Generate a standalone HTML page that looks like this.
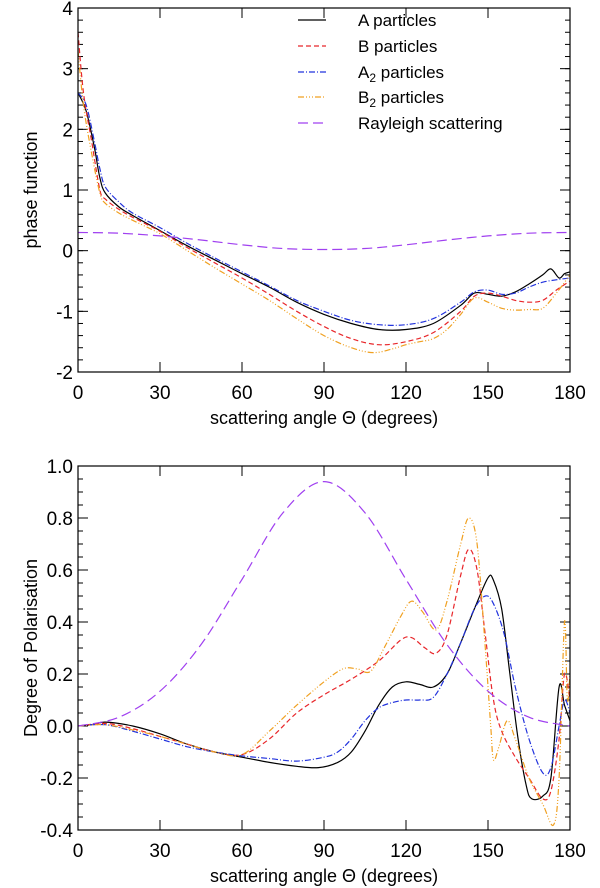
<!DOCTYPE html>
<html><head><meta charset="utf-8"><style>
body{margin:0;background:#fff}
svg{display:block;font-family:"Liberation Sans",sans-serif}
</style></head><body>
<svg id="c" width="600" height="888" viewBox="0 0 600 888"></svg>
<script>
const ticksX=[0,30,60,90,120,150,180];
const ticksTop=[-2,-1,0,1,2,3,4];
const ticksBot=[-0.4,-0.2,0.0,0.2,0.4,0.6,0.8,1.0];
const seriesNames=["A particles","B particles","A2 particles","B2 particles","Rayleigh scattering"];
// top: phase function
const aTopX=[0,3,6,8,10,15,20,30,40,50,60,70,80,90,100,110,120,130,140,145,150,155,160,165,170,173,176,178,180];
const aTopY=[2.6,2.3,1.7,1.2,0.95,0.72,0.58,0.33,0.08,-0.15,-0.38,-0.6,-0.85,-1.05,-1.2,-1.3,-1.3,-1.2,-0.9,-0.7,-0.72,-0.75,-0.68,-0.55,-0.4,-0.3,-0.45,-0.38,-0.35];
const bTopX=[0,2,5,8,10,15,20,30,40,50,60,70,80,90,100,110,120,130,140,145,150,155,160,165,170,175,180];
const bTopY=[3.6,2.6,1.8,1.0,0.85,0.68,0.55,0.32,0.05,-0.2,-0.45,-0.72,-1.0,-1.25,-1.45,-1.55,-1.5,-1.35,-1.0,-0.75,-0.7,-0.75,-0.82,-0.85,-0.82,-0.65,-0.5];
const a2TopX=[0,3,6,8,10,15,20,30,40,50,60,70,80,90,100,110,120,130,140,145,150,155,160,165,170,175,180];
const a2TopY=[2.6,2.4,1.8,1.35,1.05,0.8,0.62,0.38,0.12,-0.12,-0.35,-0.58,-0.82,-1.0,-1.15,-1.22,-1.22,-1.12,-0.85,-0.68,-0.65,-0.72,-0.7,-0.6,-0.52,-0.48,-0.45];
const b2TopX=[0,2,5,8,10,15,20,30,40,50,60,70,80,90,100,108,115,120,125,130,135,140,145,150,155,160,165,170,175,180];
const b2TopY=[3.3,2.4,1.6,0.95,0.78,0.62,0.5,0.28,0.0,-0.28,-0.55,-0.82,-1.12,-1.4,-1.6,-1.68,-1.62,-1.55,-1.5,-1.45,-1.3,-1.05,-0.78,-0.85,-0.95,-0.98,-0.97,-0.95,-0.7,-0.4];
const rTopX=[0,15,30,45,60,75,90,105,120,135,150,165,180];
const rTopY=[0.3,0.288,0.243,0.176,0.097,0.035,0.02,0.035,0.097,0.176,0.243,0.288,0.3];
// bottom: polarisation
const aBotX=[0,5,10,20,30,40,50,60,70,80,88,95,100,105,110,115,120,125,130,135,140,145,150,152,155,158,161,164,166,170,173,176,178,180];
const aBotY=[0,0.005,0.015,0.0,-0.03,-0.07,-0.1,-0.12,-0.14,-0.155,-0.16,-0.14,-0.1,-0.02,0.08,0.15,0.17,0.16,0.15,0.2,0.32,0.45,0.57,0.56,0.45,0.2,-0.05,-0.23,-0.28,-0.27,-0.2,0.15,0.08,0.02];
const bBotX=[0,10,20,30,40,50,60,70,80,90,100,110,118,122,127,131,135,140,143,146,149,152,155,160,165,170,173,176,178,180];
const bBotY=[0,0.01,-0.01,-0.04,-0.07,-0.1,-0.11,-0.05,0.05,0.12,0.18,0.25,0.33,0.34,0.3,0.28,0.35,0.58,0.68,0.6,0.35,0.1,-0.02,-0.12,-0.2,-0.28,-0.25,-0.05,0.2,0.1];
const a2BotX=[0,10,20,30,40,50,60,70,80,90,95,100,105,110,115,120,125,130,135,140,145,149,152,156,160,165,170,173,176,178,180];
const a2BotY=[0,0.005,-0.02,-0.05,-0.08,-0.1,-0.115,-0.125,-0.135,-0.12,-0.1,-0.05,0.02,0.07,0.09,0.1,0.1,0.11,0.2,0.32,0.45,0.5,0.47,0.35,0.15,-0.05,-0.18,-0.16,0.0,0.1,0.05];
const b2BotX=[0,10,20,30,40,50,60,70,80,90,97,102,107,112,118,122,126,131,135,140,143,146,149,151,152,154,157,160,165,170,174,176,178,179,180];
const b2BotY=[0,0.005,-0.015,-0.04,-0.07,-0.1,-0.11,-0.02,0.08,0.17,0.22,0.22,0.21,0.3,0.42,0.48,0.44,0.37,0.48,0.7,0.8,0.7,0.3,0.0,-0.13,-0.08,0.02,-0.05,-0.2,-0.3,-0.38,-0.2,0.4,0.1,0.2];
const rBotX=[0,15,30,45,60,75,90,105,120,135,150,165,180];
const rBotY=[0,0.034,0.134,0.313,0.564,0.82,0.94,0.82,0.564,0.313,0.134,0.034,0];

const NS="http://www.w3.org/2000/svg";
const svg=document.getElementById('c');
function el(t,a,p){const e=document.createElementNS(NS,t);for(const k in a)e.setAttribute(k,a[k]);(p||svg).appendChild(e);return e;}
const X0=78,X1=570;
function sx(v){return X0+(v/180)*(X1-X0);}
function mkY(lo,hi,top,bot){return v=>bot-(v-lo)/(hi-lo)*(bot-top);}
function path(xs,ys,fx,fy){
  const p=xs.map((x,i)=>[fx(x),fy(ys[i])]);
  let d="M"+p[0][0].toFixed(1)+","+p[0][1].toFixed(1);
  for(let i=0;i<p.length-1;i++){
    const p0=p[Math.max(0,i-1)],p1=p[i],p2=p[i+1],p3=p[Math.min(p.length-1,i+2)];
    const c1=[p1[0]+(p2[0]-p0[0])/6,p1[1]+(p2[1]-p0[1])/6];
    const c2=[p2[0]-(p3[0]-p1[0])/6,p2[1]-(p3[1]-p1[1])/6];
    d+="C"+c1.map(v=>v.toFixed(1))+" "+c2.map(v=>v.toFixed(1))+" "+p2.map(v=>v.toFixed(1));
  }
  return d;
}
const styles=[
 {c:"#000",d:""},
 {c:"#e8262a",d:"5,3"},
 {c:"#2233dd",d:"6,2,1,2"},
 {c:"#f0a020",d:"6,2,1,2,1,2,1,2"},
 {c:"#a040f0",d:"10,5"}];
function panel(name,top,bot,lo,hi,ticks,minor,fmt,ylabel,series){
  const g=el('g',{});
  
  
  const fy=mkY(lo,hi,top,bot);
  for(let v=lo;v<=hi+1e-9;v+=minor){
    const y=fy(v);
    el('line',{x1:X0,x2:X0+5,y1:y,y2:y,stroke:'#000','stroke-width':1},g);
    el('line',{x1:X1,x2:X1-5,y1:y,y2:y,stroke:'#000','stroke-width':1},g);
  }
  ticks.forEach(v=>{
    const y=fy(v);
    el('line',{x1:X0,x2:X0+10,y1:y,y2:y,stroke:'#000','stroke-width':1},g);
    el('line',{x1:X1,x2:X1-10,y1:y,y2:y,stroke:'#000','stroke-width':1},g);
    const t=el('text',{x:X0-5,y:y+7,'text-anchor':'end','font-size':19},g);t.textContent=fmt(v);
    
    
  });
  ticksX.forEach(v=>{
    const x=sx(v);
    el('line',{x1:x,x2:x,y1:bot,y2:bot-10,stroke:'#000','stroke-width':1},g);
    el('line',{x1:x,x2:x,y1:top,y2:top+10,stroke:'#000','stroke-width':1},g);
    const t=el('text',{x:x,y:bot+27,'text-anchor':'middle','font-size':19},g);t.textContent=v;
    
    
  });
  const cp=el('clipPath',{id:'cp'+name},g);
  el('rect',{x:X0,y:top,width:X1-X0,height:bot-top},cp);
  const sg=el('g',{'clip-path':'url(#cp'+name+')'},g);
  series.forEach((s,i)=>{
    const p=el('path',{d:path(s[0],s[1],sx,fy),fill:'none',stroke:styles[i].c,'stroke-width':1.2,'stroke-dasharray':styles[i].d},sg);
    
    
  });
  el('rect',{x:X0,y:top,width:X1-X0,height:bot-top,fill:'none',stroke:'#000','stroke-width':1.2},g);
  const xl=el('text',{x:(X0+X1)/2,y:bot+52,'text-anchor':'middle','font-size':18},g);
  xl.textContent="scattering angle \u0398 (degrees)";
  
  
  const cy=(top+bot)/2;
  const yl=el('text',{x:37,y:cy,'text-anchor':'middle','font-size':18,transform:'rotate(-90 37 '+cy+')'},g);
  yl.textContent=ylabel;
  
  
}
panel('phase-panel',8,372,-2,4,ticksTop,0.2,v=>String(v),'phase function',
 [[aTopX,aTopY],[bTopX,bTopY],[a2TopX,a2TopY],[b2TopX,b2TopY],[rTopX,rTopY]]);
panel('polarisation-panel',466,830,-0.4,1.0,ticksBot,0.05,v=>v.toFixed(1),'Degree of Polarisation',
 [[aBotX,aBotY],[bBotX,bBotY],[a2BotX,a2BotY],[b2BotX,b2BotY],[rBotX,rBotY]]);
const lg=el('g',{});


const ly=[20,46,72,97,123];
seriesNames.forEach((n,i)=>{
  el('line',{x1:298,x2:326,y1:ly[i],y2:ly[i],stroke:styles[i].c,'stroke-width':1.2,'stroke-dasharray':styles[i].d},lg);
  const t=el('text',{x:358,y:ly[i]+6,'font-size':17},lg);
  
  
  if(n.indexOf('2')===1){
    t.textContent=n[0];
    const s=el('tspan',{'font-size':12,dy:4},t);s.textContent='2';
    const r=el('tspan',{dy:-4},t);r.textContent=n.slice(2);
  } else t.textContent=n;
});
</script>
</body></html>
